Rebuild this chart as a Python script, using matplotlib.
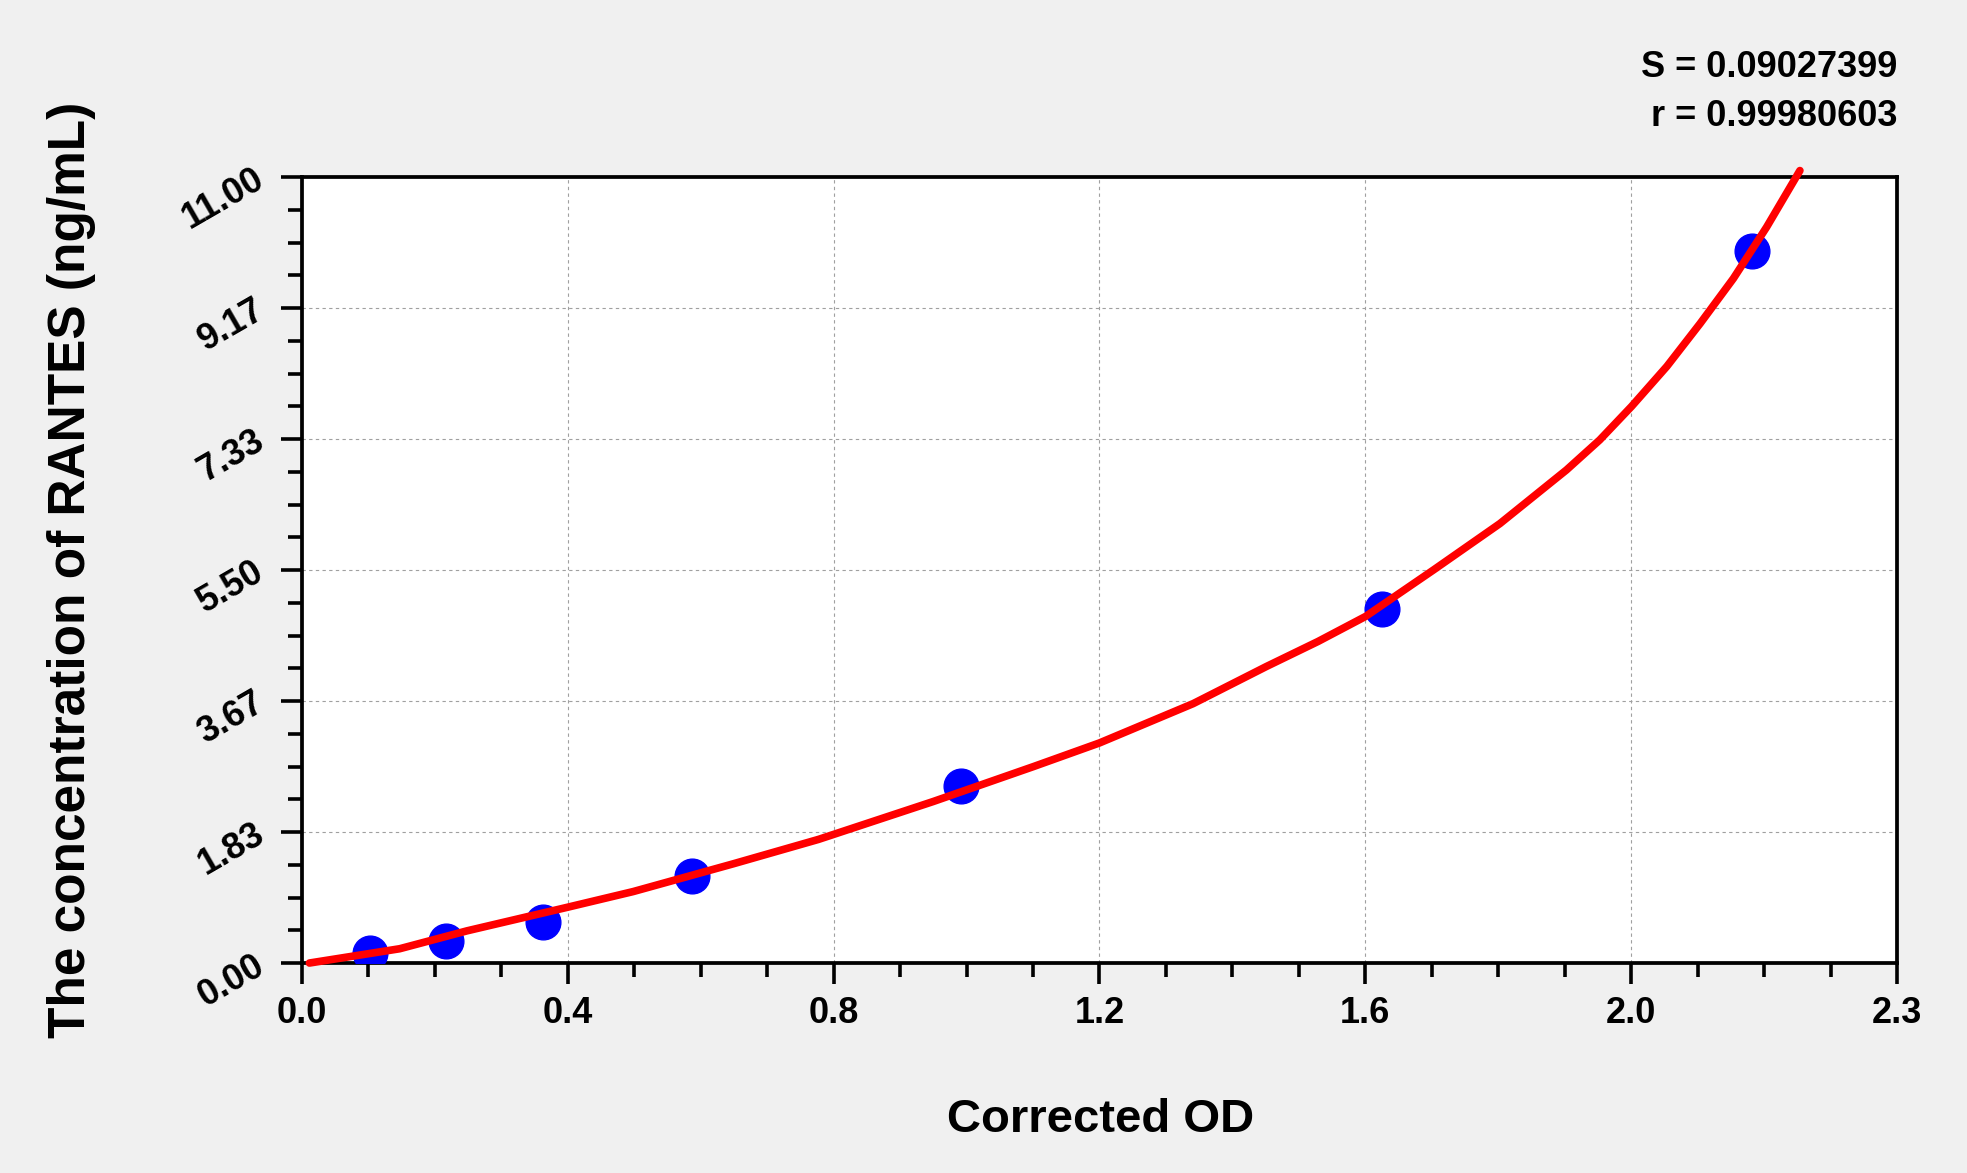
import matplotlib
matplotlib.use('Agg')
import matplotlib.pyplot as plt
import numpy as np
from matplotlib.ticker import FixedLocator

plt.rcParams['font.family'] = ['Liberation Sans', 'DejaVu Sans']
plt.rcParams['font.weight'] = 'bold'

# standard points (corrected OD vs concentration)
od_points = [0.100, 0.212, 0.355, 0.574, 0.971, 1.592, 2.137]
conc_points = [0.14, 0.31, 0.58, 1.22, 2.48, 4.96, 9.96]

# fitted curve
curve_od = [0.011, 0.051, 0.144, 0.243, 0.391, 0.488, 0.636, 0.761, 0.930, 1.078,
            1.175, 1.313, 1.421, 1.497, 1.567, 1.667, 1.765, 1.863, 1.912, 1.959,
            2.011, 2.060, 2.109, 2.158, 2.207]
curve_conc = [0.0, 0.06, 0.20, 0.45, 0.78, 1.00, 1.39, 1.73, 2.26, 2.75,
              3.08, 3.63, 4.15, 4.50, 4.85, 5.50, 6.15, 6.90, 7.32, 7.79,
              8.35, 8.95, 9.58, 10.30, 11.09]

x_ticklabels = ['0.0', '0.4', '0.8', '1.2', '1.6', '2.0', '2.3']
y_ticklabels = ['0.00', '1.83', '3.67', '5.50', '7.33', '9.17', '11.00']
stat_lines = ['S = 0.09027399', 'r = 0.99980603']

x_max, y_max = 2.35, 11.0

fig = plt.figure(figsize=(19.67, 11.73), dpi=100, facecolor='#f0f0f0')
ax = fig.add_axes([0.1535, 0.179, 0.8109, 0.6701])
ax.set_facecolor('white')

ax.plot(od_points, conc_points, 'o', color='#0000ff', markersize=25, zorder=3)
ax.plot(curve_od, curve_conc, '-', color='#ff0000', lw=5.5, zorder=4,
        clip_on=False, solid_capstyle='round', solid_joinstyle='round')

ax.set_xlim(0, x_max)
ax.set_ylim(0, y_max)

ax.xaxis.set_major_locator(FixedLocator(np.linspace(0, x_max, 7)))
ax.xaxis.set_minor_locator(FixedLocator(np.linspace(0, x_max, 25)))
ax.yaxis.set_major_locator(FixedLocator(np.linspace(0, y_max, 7)))
ax.yaxis.set_minor_locator(FixedLocator(np.linspace(0, y_max, 25)))

ax.set_xticklabels(x_ticklabels, fontsize=26, fontweight='bold')
ax.set_yticklabels(y_ticklabels, fontsize=26, fontweight='bold',
                   rotation=30, ha='right', va='center', rotation_mode='anchor')

ax.tick_params(axis='both', which='major', direction='out', length=15,
               width=2.6, color='black')
ax.tick_params(axis='both', which='minor', direction='out', length=10,
               width=2.6, color='black')
ax.tick_params(axis='x', which='major', pad=9)
ax.tick_params(axis='y', which='major', pad=14)

for sp in ax.spines.values():
    sp.set_linewidth(2.7)
    sp.set_color('black')

ax.grid(which='major', color='#a0a0a0', linestyle=(0, (3, 3)), linewidth=0.8)
ax.set_axisbelow(True)

fig.text(0.5594, 0.0352, 'Corrected OD', fontsize=34, fontweight='bold',
         ha='center', va='baseline')
fig.text(72 / 1967, 0.514, 'The concentration of RANTES (ng/mL)', fontsize=37,
         fontweight='bold', rotation=90, ha='center', va='center')

fig.text(0.9644, 0.9341, stat_lines[0], fontsize=26, fontweight='bold',
         ha='right', va='baseline')
fig.text(0.9644, 0.8926, stat_lines[1], fontsize=26, fontweight='bold',
         ha='right', va='baseline')

fig.savefig('out.png', dpi=100, facecolor=fig.get_facecolor())
